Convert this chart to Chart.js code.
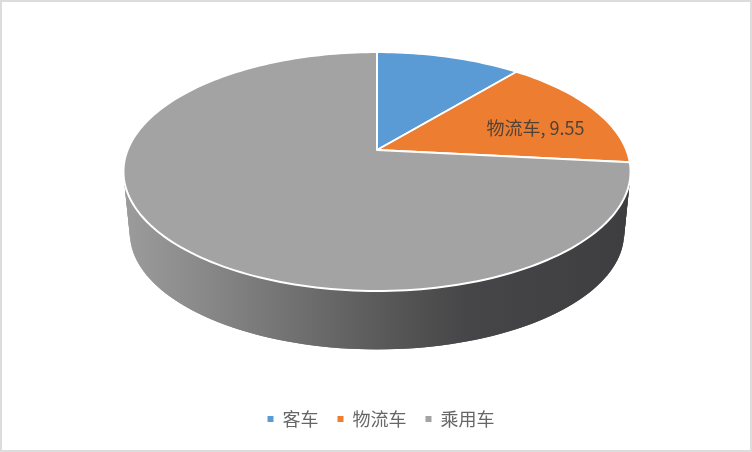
<!DOCTYPE html>
<html>
<head>
<meta charset="utf-8">
<title>车型占比</title>
<script src="https://cdn.jsdelivr.net/npm/chart.js@4"></script>
<style>
  html, body { margin: 0; padding: 0; background: #fff; }
  #wrap { position: relative; width: 752px; height: 452px; overflow: hidden; }
  #frame { position: absolute; inset: 0; border: 2px solid #dcdcdc; box-sizing: border-box; pointer-events: none; }
</style>
</head>
<body>
<div id="wrap">
  <canvas id="pie_chart" width="752" height="452"></canvas>
  <div id="frame"></div>
</div>
<script>
// data
const categories = ['客车', '物流车', '乘用车'];
const values = [6.7, 9.55, 44.7];
const sliceColors = ['#5b9bd5', '#ed7d31', '#a3a3a3'];
const labelledCategories = ['物流车'];

const fontName = '"Noto Sans CJK SC", "Noto Sans", sans-serif';

// tilted disc: perspective projection of the unit circle
const apexX = 377, apexY = 150;
const spreadX = 249.4, spreadY = 115.6, tilt = 0.18;
const depth = 62, farScale = 0.975;

function project(a, frac, lower) {
  const u = Math.cos(a) * frac, v = Math.sin(a) * frac;
  const w = 1 - tilt * v;
  const s = lower ? farScale : 1;
  return {
    x: apexX + s * spreadX * u / w,
    y: apexY + (lower ? depth : 0) + s * spreadY * v / w
  };
}

function drawSide(ctx) {
  const g = ctx.createLinearGradient(123, 0, 630, 0);
  g.addColorStop(0, '#9c9c9c');
  g.addColorStop(0.15, '#8a8a8a');
  g.addColorStop(0.35, '#6f6f6f');
  g.addColorStop(0.5, '#5b5b5b');
  g.addColorStop(0.68, '#464547');
  g.addColorStop(1, '#3e3d3f');
  ctx.fillStyle = g;
  // overlapping quads, so no seams show between them
  const from = -Math.PI / 4, to = Math.PI + Math.PI / 4, n = 150;
  for (let i = 0; i < n; i++) {
    const a1 = from + (to - from) * i / n;
    const a2 = from + (to - from) * (i + 2) / n;
    const p1 = project(a1, 1, false), p2 = project(a2, 1, false);
    const p3 = project(a2, 1, true), p4 = project(a1, 1, true);
    ctx.beginPath();
    ctx.moveTo(p1.x, p1.y);
    ctx.lineTo(p2.x, p2.y);
    ctx.lineTo(p3.x, p3.y);
    ctx.lineTo(p4.x, p4.y);
    ctx.closePath();
    ctx.fill();
  }
}

// takes the angles chart.js worked out and draws them on the tilted disc
const tiltedPie = {
  id: 'tiltedPie',
  beforeDatasetDraw(chart, args) {
    const ctx = chart.ctx;
    ctx.save();
    drawSide(ctx);
    args.meta.data.forEach((arc, i) => {
      const start = arc.startAngle, end = arc.endAngle;
      const steps = Math.max(4, Math.ceil((end - start) * 40));
      ctx.beginPath();
      ctx.moveTo(apexX, apexY);
      for (let k = 0; k <= steps; k++) {
        const p = project(start + (end - start) * k / steps, 1, false);
        ctx.lineTo(p.x, p.y);
      }
      ctx.closePath();
      ctx.fillStyle = sliceColors[i];
      ctx.fill();
      ctx.strokeStyle = '#ffffff';
      ctx.lineWidth = 2;
      ctx.lineJoin = 'round';
      ctx.stroke();
    });
    ctx.restore();
    return false;
  },
  afterDatasetsDraw(chart) {
    const ctx = chart.ctx;
    ctx.save();
    ctx.font = '18px ' + fontName;
    ctx.fillStyle = '#4f4236';
    ctx.textAlign = 'center';
    ctx.textBaseline = 'middle';
    chart.getDatasetMeta(0).data.forEach((arc, i) => {
      if (!labelledCategories.includes(categories[i])) return;
      const p = project((arc.startAngle + arc.endAngle) / 2, 0.72, false);
      ctx.fillText(categories[i] + ', ' + values[i], p.x, p.y + 8);
    });
    ctx.restore();
  }
};

const ctx = document.getElementById('pie_chart');

new Chart(ctx, {
  type: 'pie',
  data: {
    labels: categories,
    datasets: [{
      data: values,
      backgroundColor: sliceColors,
      borderWidth: 0
    }]
  },
  plugins: [tiltedPie],
  options: {
    responsive: false,
    animation: false,
    devicePixelRatio: 1,
    layout: { padding: { left: 10, bottom: 14 } },
    plugins: {
      tooltip: { enabled: false },
      legend: {
        position: 'bottom',
        labels: {
          boxWidth: 6,
          boxHeight: 6,
          padding: 19,
          color: '#666666',
          font: { family: fontName, size: 18 }
        }
      }
    }
  }
});
</script>
</body>
</html>
